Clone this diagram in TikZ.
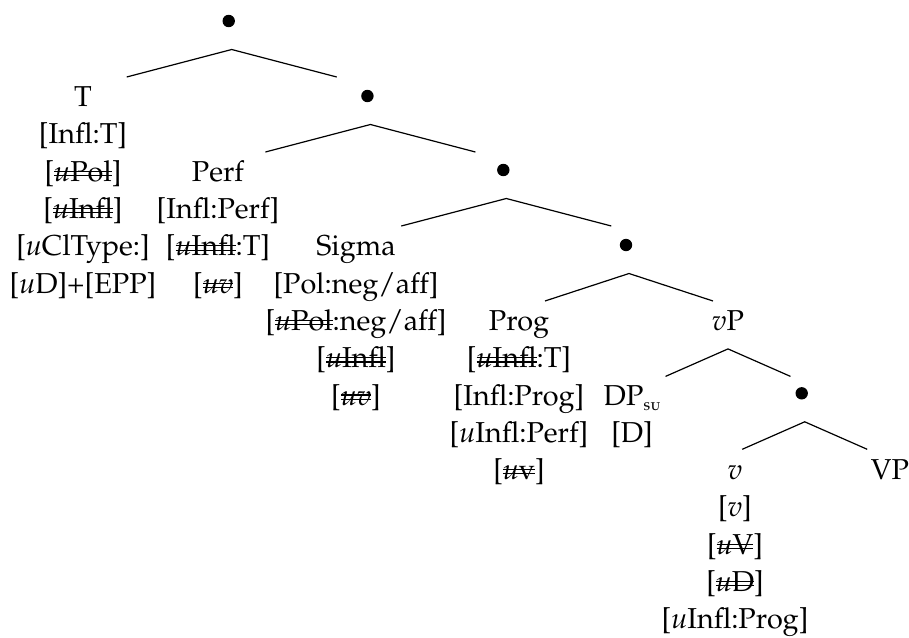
\documentclass[tikz,border=0pt]{standalone}
\usepackage[T1]{fontenc}
\usepackage[sc]{mathpazo}
\newsavebox{\strikebox}
\newcommand{\dstrike}[1]{\sbox{\strikebox}{#1}%
  \rlap{\raisebox{0.38ex}{\rule{\wd\strikebox}{0.55pt}}}%
  \rlap{\raisebox{0.70ex}{\rule{\wd\strikebox}{0.55pt}}}%
  \usebox{\strikebox}}
\newcommand{\featfont}{\fontsize{14.4}{18.65}\selectfont}
\newcommand{\subsc}[1]{\raisebox{-2.5pt}{\fontsize{8}{9}\selectfont\textsc{#1}}}
\tikzset{
  feat/.style={align=center, inner sep=0pt, anchor=north, font=\featfont},
  dotnode/.style={circle, fill=black, inner sep=0pt, minimum size=6.2pt},
}
\begin{document}
\begin{tikzpicture}[x=0.5pt, y=-0.5pt, line width=0.6pt]
    \useasboundingbox (0,0) rectangle (909,637);

    % the branching points
    \node[dotnode] (n1) at (228.7,21) {};
    \node[dotnode] (n2) at (367.4,96) {};
    \node[dotnode] (n3) at (503.3,170) {};
    \node[dotnode] (n4) at (626,245) {};
    \node[dotnode] (n5) at (801.7,393.3) {};

    % the feature bundles
    \node[feat] (T) at (83,79.9) {\strut T\\{}[Infl:T]\\{}[\dstrike{\textit{u}Pol}]\\{}[\dstrike{\textit{u}Infl}]\\{}[\textit{u}ClType:]\\{}[\textit{u}D]+[EPP]};
    \node[feat] (Perf) at (218,154.5) {\strut Perf\\{}[Infl:Perf]\\{}[\dstrike{\textit{u}Infl}:T]\\{}[\dstrike{\textit{uv}}]};
    \node[feat] (Sigma) at (356,229.1) {\strut Sigma\\{}[Pol:neg/aff]\\{}[\dstrike{\textit{u}Pol}:neg/aff]\\{}[\dstrike{\textit{u}Infl}]\\{}[\dstrike{\textit{uv}}]};
    \node[feat] (Prog) at (519,303.7) {\strut Prog\\{}[\dstrike{\textit{u}Infl}:T]\\{}[Infl:Prog]\\{}[\textit{u}Infl:Perf]\\{}[\dstrike{\textit{u}v}]};
    \node[feat] (vP) at (728,303.7) {\strut\textit{v}P};
    \node[feat] (DP) at (632,378.3) {\strut DP\subsc{su}\\{}[D]};
    \node[feat] (v) at (735,452.9) {\strut\textit{v}\\{}[\textit{v}]\\{}[\dstrike{\textit{u}V}]\\{}[\dstrike{\textit{u}D}]\\{}[\textit{u}Infl:Prog]};
    \node[feat] (VP) at (890,452.9) {\strut VP};

    % branches
    \foreach \n/\w in {n1/105, n2/105, n3/105, n4/84, n5/62.5} {
        \coordinate (\n-top) at ([shift={(3,28.5)}]\n.center);
        \coordinate (\n-l) at ([shift={(-\w,27.5)}]\n-top);
        \coordinate (\n-r) at ([shift={(\w,27.5)}]\n-top);
        \draw (\n-l) -- (\n-top) -- (\n-r);
    }
    \coordinate (vP-top) at ([shift={(0,18.5)}]vP.base);
    \coordinate (vP-l) at ([shift={(-62.5,27.5)}]vP-top);
    \coordinate (vP-r) at ([shift={(62.5,27.5)}]vP-top);
    \draw (vP-l) -- (vP-top) -- (vP-r);
\end{tikzpicture}
\end{document}
